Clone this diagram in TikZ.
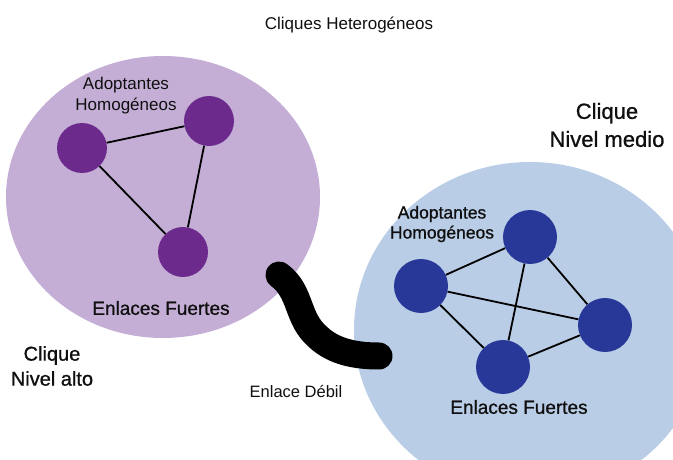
\documentclass[tikz,border=0pt]{standalone}
\usepackage{fontspec}
\setmainfont{Liberation Sans}
\newfontfamily\heavyface{Liberation Sans}[FakeBold=0.9]
\usetikzlibrary{shapes.geometric}

\definecolor{altobg}{RGB}{196,174,214}
\definecolor{altonode}{RGB}{108,42,140}
\definecolor{mediobg}{RGB}{185,205,230}
\definecolor{medionode}{RGB}{40,56,152}
\definecolor{ink}{RGB}{15,15,15}

\newcommand\setfs[2]{\fontsize{#1}{#2}\selectfont}

\begin{document}
\begin{tikzpicture}[x=1pt,y=-1pt,
  clique/.style={ellipse, inner sep=0pt, draw=none},
  altomember/.style={circle, inner sep=0pt, minimum size=50pt, fill=altonode},
  mediomember/.style={circle, inner sep=0pt, minimum size=54pt, fill=medionode},
  tie/.style={draw=black, line width=1.8pt},
  weaklink/.style={draw=black, line width=27pt, line cap=round, line join=round},
  lbl/.style={text=ink, align=center, inner sep=0pt}
]
\useasboundingbox (0,0) rectangle (673,460);
\clip (0,0) rectangle (673,460);
\fill[white] (0,0) rectangle (673,460);

% the two cliques
\node[clique, fill=altobg, minimum width=314pt, minimum height=282pt] (alto) at (163,197) {};
\node[clique, fill=mediobg, minimum width=352pt, minimum height=336pt] (medio) at (530,330) {};

% weak tie between the cliques
\coordinate (wA) at (279,275);
\coordinate (wB) at (379,356);
\draw[weaklink] (wA) .. controls (302,292) and (296,318) .. (318,337)
                     .. controls (334,352) and (356,356) .. (wB);

% high-level clique members
\node[altomember] (pa) at (82,148) {};
\node[altomember] (pb) at (209,121) {};
\node[altomember] (pc) at (183,252) {};
\draw[tie] (pa) -- (pb);
\draw[tie] (pb) -- (pc);
\draw[tie] (pa) -- (pc);

% mid-level clique members
\node[mediomember] (ba) at (421,286) {};
\node[mediomember] (bb) at (530,237) {};
\node[mediomember] (bc) at (605,325) {};
\node[mediomember] (bd) at (503,367) {};
\draw[tie] (ba) -- (bb);
\draw[tie] (bb) -- (bc);
\draw[tie] (ba) -- (bc);
\draw[tie] (ba) -- (bd);
\draw[tie] (bb) -- (bd);
\draw[tie] (bd) -- (bc);

% labels
\node[lbl, font=\setfs{17}{20}] (title) at (349,25) {Cliques Heterogéneos};
\node[lbl, font=\setfs{17}{21}] (altoadopt) at (126,96) {Adoptantes\\Homogéneos};
\node[lbl, font=\heavyface\setfs{19}{22}] (altostrong) at (161,308) {Enlaces Fuertes};
\node[lbl, font=\heavyface\setfs{20}{25}] (altoname) at (52,366) {Clique\\Nivel alto};
\node[lbl, font=\heavyface\setfs{17.5}{20}] (medioadopt) at (442,224) {Adoptantes\\Homogéneos};
\node[lbl, font=\heavyface\setfs{19}{22}] (mediostrong) at (519,407) {Enlaces Fuertes};
\node[lbl, font=\heavyface\setfs{22}{28}] (medioname) at (607,125) {Clique\\Nivel medio};
\node[lbl, font=\setfs{16.5}{20}] (weaklbl) at (296,392) {Enlace Débil};
\end{tikzpicture}
\end{document}
